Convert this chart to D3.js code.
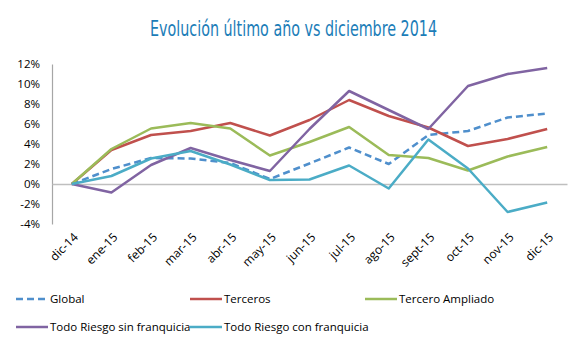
<!DOCTYPE html>
<html>
<head>
<meta charset="utf-8">
<script src="https://cdn.jsdelivr.net/npm/d3@7"></script>
<style>
  body { margin: 0; background: #fff; }
  svg text { font-family: "Open Sans", "Liberation Sans", sans-serif; }
</style>
</head>
<body>
<svg id="chart" width="578" height="352"></svg>
<script>
// categories
const months = ["dic-14","ene-15","feb-15","mar-15","abr-15","may-15","jun-15","jul-15","ago-15","sept-15","oct-15","nov-15","dic-15"];
const yTicks = [-4, -2, 0, 2, 4, 6, 8, 10, 12];

// series values (%)
const global      = [0, 1.5, 2.6, 2.55, 2.1, 0.5, 2.05, 3.65, 2.0, 4.9, 5.3, 6.65, 7.05];
const terceros    = [0, 3.4, 4.9, 5.3, 6.1, 4.85, 6.4, 8.4, 6.8, 5.65, 3.8, 4.5, 5.5];
const terceroAmp  = [0, 3.5, 5.55, 6.1, 5.55, 2.85, 4.2, 5.7, 2.9, 2.6, 1.35, 2.75, 3.7];
const trSinFranq  = [0, -0.85, 1.9, 3.6, 2.4, 1.3, 5.5, 9.3, 7.4, 5.5, 9.8, 11.0, 11.6];
const trConFranq  = [0, 0.8, 2.55, 3.3, 1.95, 0.4, 0.45, 1.85, -0.45, 4.45, 1.55, -2.8, -1.85];

const series = [
  {name: "Global", values: global, color: "#4f8fcc", dash: "7,4"},
  {name: "Terceros", values: terceros, color: "#c0504d", dash: null},
  {name: "Tercero Ampliado", values: terceroAmp, color: "#9bbb59", dash: null},
  {name: "Todo Riesgo sin franquicia", values: trSinFranq, color: "#8064a2", dash: null},
  {name: "Todo Riesgo con franquicia", values: trConFranq, color: "#4bacc6", dash: null}
];

const svg = d3.select("#chart");
const margin = {top: 64, left: 52, right: 11, bottom: 128};
const W = 578, H = 352;

// condensed title: squeeze to the reference width
svg.append("text")
  .attr("x", 150).attr("y", 36)
  .attr("fill", "#1b7db8")
  .attr("textLength", 287)
  .attr("lengthAdjust", "spacingAndGlyphs")
  .style("font-family", "'DejaVu Sans Condensed', 'DejaVu Sans', sans-serif")
  .style("font-stretch", "condensed")
  .style("font-size", "21px")
  .text("Evolución último año vs diciembre 2014");

const x = d3.scaleBand().domain(months).range([margin.left, W - margin.right]);
const y = d3.scaleLinear().domain([-4, 12]).range([224, 64]);

// y axis
const yAxis = svg.append("g")
  .attr("transform", `translate(${margin.left},0)`)
  .call(d3.axisLeft(y).tickValues(yTicks).tickSize(0).tickPadding(12).tickFormat(d => d + "%"));
yAxis.select(".domain").attr("stroke", "#a6a6a6").attr("stroke-width", 1.2);
yAxis.selectAll("text").style("font-size", "11.5px").attr("fill", "#000");

// zero line (x axis)
const xAxis = svg.append("g")
  .attr("transform", `translate(0,${y(0)})`)
  .call(d3.axisBottom(x).tickSize(0).tickFormat(""));
xAxis.select(".domain").attr("stroke", "#bfbfbf").attr("stroke-width", 1.5);

// rotated month labels
svg.append("g").selectAll("text")
  .data(months)
  .join("text")
  .attr("transform", d => `translate(${x(d) + x.bandwidth() / 2 + 4},${235}) rotate(-45)`)
  .attr("text-anchor", "end")
  .attr("dy", "0.35em")
  .style("font-size", "12px")
  .attr("fill", "#000")
  .text(d => d);

// lines
const line = d3.line()
  .x((d, i) => x(months[i]) + x.bandwidth() / 2)
  .y(d => y(d));

svg.append("g").selectAll("path")
  .data(series)
  .join("path")
  .attr("fill", "none")
  .attr("stroke", d => d.color)
  .attr("stroke-width", 2.5)
  .attr("stroke-dasharray", d => d.dash)
  .attr("stroke-linejoin", "round")
  .attr("d", d => line(d.values));

// legend
const legendPos = [[16, 299], [190, 299], [365, 299], [16, 327], [190, 327]];
const legend = svg.append("g").selectAll("g")
  .data(series)
  .join("g")
  .attr("transform", (d, i) => `translate(${legendPos[i][0]},${legendPos[i][1]})`);
legend.append("line")
  .attr("x1", 0).attr("x2", 32)
  .attr("stroke", d => d.color)
  .attr("stroke-width", 2.5)
  .attr("stroke-dasharray", d => d.dash);
legend.append("text")
  .attr("x", 34).attr("dy", "0.35em")
  .style("font-size", "11.5px")
  .attr("fill", "#000")
  .text(d => d.name);
</script>
</body>
</html>
